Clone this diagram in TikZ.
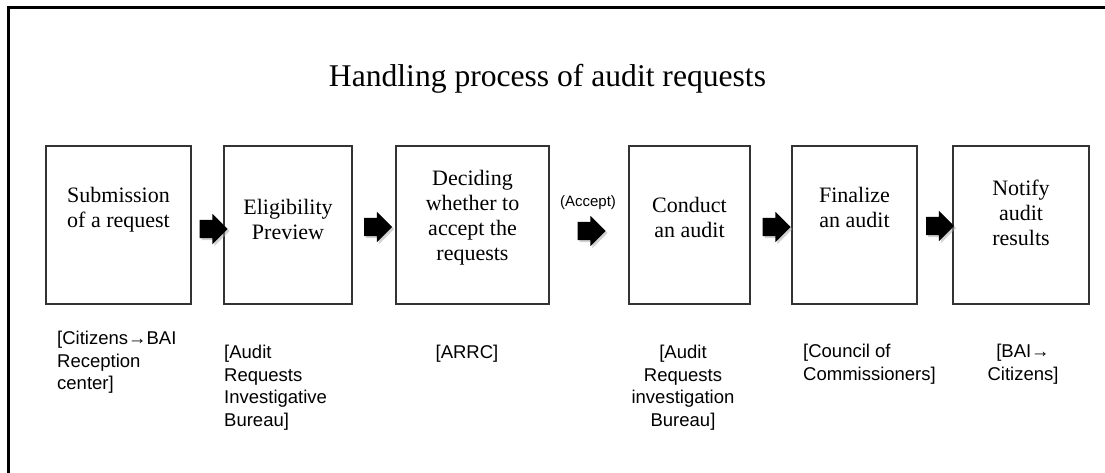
\documentclass[tikz,border=0pt]{standalone}
\usepackage{fontspec}
\setmainfont{Liberation Serif}
\newfontfamily\labelfont{Liberation Sans}
\usetikzlibrary{shapes.arrows,shadows}

\begin{document}
\begin{tikzpicture}[x=1pt,y=-1pt,
    stepbox/.style={draw=black!80, line width=1.2pt, inner sep=0pt},
    boxtext/.style={anchor=north, align=center, inner sep=0pt,
        font=\fontsize{22}{25}\selectfont},
    orgtext/.style={anchor=north, inner sep=0pt,
        font=\labelfont\fontsize{18.5}{22.5}\selectfont},
    blockarrow/.style={single arrow, fill=black, inner xsep=0pt, inner ysep=9pt,
        minimum height=28pt, single arrow head extend=6pt,
        drop shadow={shadow xshift=2pt, shadow yshift=-2pt, fill=black!35}}]
    \useasboundingbox (0,0) rectangle (1105,473);
    \draw[line width=3pt] (8,473) -- (8,8) -- (1105,8);

    \node[anchor=base, font=\fontsize{31.6}{37}\selectfont] (title) at (547.5,87) {Handling process of audit requests};

    % steps
    \node[stepbox, minimum width=145pt, minimum height=158pt] (s1) at (118.5,225) {};
    \node[stepbox, minimum width=128pt, minimum height=158pt] (s2) at (288,225) {};
    \node[stepbox, minimum width=153pt, minimum height=158pt] (s3) at (472.5,225) {};
    \node[stepbox, minimum width=121pt, minimum height=158pt] (s4) at (689.5,225) {};
    \node[stepbox, minimum width=125pt, minimum height=158pt] (s5) at (854.5,225) {};
    \node[stepbox, minimum width=136pt, minimum height=158pt] (s6) at (1021,225) {};

    \node[boxtext] (t1) at (118.5,187) {Submission\\of a request};
    \node[boxtext] (t2) at (288,199) {Eligibility\\Preview};
    \node[boxtext] (t3) at (472.5,170) {Deciding\\whether to\\accept the\\requests};
    \node[boxtext] (t4) at (689.5,197) {Conduct\\an audit};
    \node[boxtext] (t5) at (854.5,187) {Finalize\\an audit};
    \node[boxtext] (t6) at (1021,180) {Notify\\audit\\results};

    % arrows
    \node[blockarrow] (a1) at (209,229) {};
    \node[blockarrow] (a2) at (373.5,227) {};
    \node[blockarrow] (a3) at (587,231) {};
    \node[blockarrow] (a4) at (772,227) {};
    \node[blockarrow] (a5) at (935.5,226) {};
    \node[anchor=base, inner sep=0pt, font=\labelfont\fontsize{15}{18}\selectfont] (accept) at (588,207) {(Accept)};

    % who does it
    \node[orgtext, anchor=north west, align=left] (l1) at (57,331) {[Citizens→BAI\\Reception\\center]};
    \node[orgtext, anchor=north west, align=left] (l2) at (224,345) {[Audit\\Requests\\Investigative\\Bureau]};
    \node[orgtext] (l3) at (467,345) {[ARRC]};
    \node[orgtext, align=center] (l4) at (683,345) {[Audit\\Requests\\investigation\\Bureau]};
    \node[orgtext, anchor=north west, align=left] (l5) at (803,344) {[Council of\\Commissioners]};
    \node[orgtext, align=center] (l6) at (1023,344) {[BAI→\\Citizens]};
\end{tikzpicture}
\end{document}
